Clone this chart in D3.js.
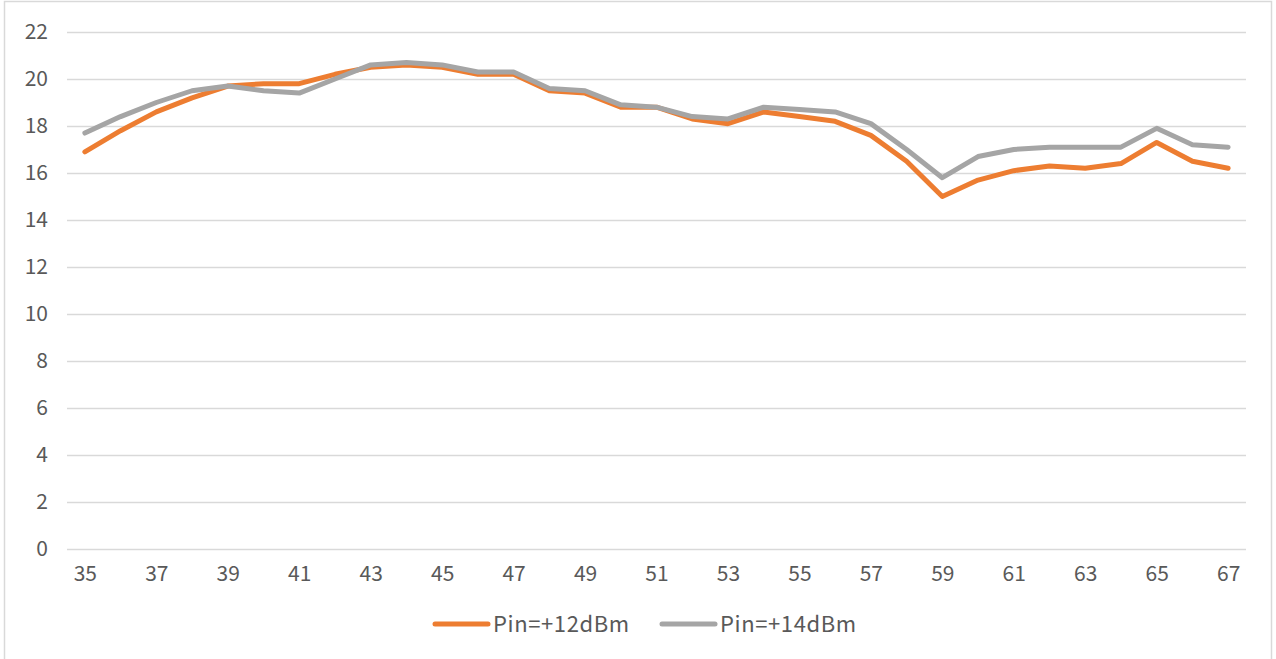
<!DOCTYPE html>
<html lang="en">
<head>
  <meta charset="utf-8">
  <title>Pin line chart</title>
  <script src="https://d3js.org/d3.v7.js"></script>
  <style>
    body { margin: 0; background: #fff; }
    text { font-family: "Noto Sans CJK SC", "Noto Sans", sans-serif; fill: #595959; }
  </style>
</head>
<body>
  <div id="my_dataviz"></div>

  <script>
    // categories on the x axis
    var freqs = [35, 36, 37, 38, 39, 40, 41, 42, 43, 44, 45, 46, 47, 48, 49, 50,
                 51, 52, 53, 54, 55, 56, 57, 58, 59, 60, 61, 62, 63, 64, 65, 66, 67];

    // series values
    var pin12 = [16.9, 17.8, 18.6, 19.2, 19.7, 19.8, 19.8, 20.2, 20.5, 20.6, 20.5, 20.2, 20.2,
                 19.5, 19.4, 18.8, 18.8, 18.3, 18.1, 18.6, 18.4, 18.2, 17.6, 16.5, 15.0,
                 15.7, 16.1, 16.3, 16.2, 16.4, 17.3, 16.5, 16.2];
    var pin14 = [17.7, 18.4, 19.0, 19.5, 19.7, 19.5, 19.4, 20.0, 20.6, 20.7, 20.6, 20.3, 20.3,
                 19.6, 19.5, 18.9, 18.8, 18.4, 18.3, 18.8, 18.7, 18.6, 18.1, 17.0, 15.8,
                 16.7, 17.0, 17.1, 17.1, 17.1, 17.9, 17.2, 17.1];

    var seriesNames = ["Pin=+12dBm", "Pin=+14dBm"];
    var yTicks = [0, 2, 4, 6, 8, 10, 12, 14, 16, 18, 20, 22];
    var xTicks = freqs.filter(function(d) { return d % 2 === 1; });

    var W = 1276, H = 659;
    var margin = {top: 32, right: 30, bottom: 110, left: 67},
        width = 1246 - margin.left,
        height = 549 - margin.top;

    var root = d3.select("#my_dataviz")
      .append("svg")
      .attr("width", W)
      .attr("height", H);

    // outer chart border
    root.append("rect")
      .attr("x", 4.5).attr("y", 1.5)
      .attr("width", 1267).attr("height", 670)
      .attr("fill", "none")
      .attr("stroke", "#d9d9d9")
      .attr("stroke-width", 1.5);

    var svg = root.append("g")
      .attr("transform", "translate(" + margin.left + "," + margin.top + ")");

    var x = d3.scalePoint()
      .domain(freqs)
      .range([0, width])
      .padding(0.5);

    var y = d3.scaleLinear()
      .domain([0, 22])
      .range([height, 0]);

    // gridlines + y labels
    var yAxis = svg.append("g")
      .call(d3.axisLeft(y).tickValues(yTicks).tickSize(-width).tickPadding(19));
    yAxis.select(".domain").remove();
    yAxis.selectAll(".tick line")
      .attr("stroke", "#d9d9d9")
      .attr("stroke-width", 1.4);
    yAxis.selectAll(".tick text")
      .attr("font-size", 21)
      .attr("fill", "#595959");

    // x labels
    var xAxis = svg.append("g")
      .attr("transform", "translate(0," + height + ")")
      .call(d3.axisBottom(x).tickValues(xTicks).tickSize(0).tickPadding(17));
    xAxis.select(".domain").remove();
    xAxis.selectAll(".tick text")
      .attr("font-size", 21)
      .attr("fill", "#595959");

    var colors = ["#ED7D31", "#A5A5A5"];
    var series = [pin12, pin14];

    var line = d3.line()
      .x(function(d, i) { return x(freqs[i]); })
      .y(function(d) { return y(d); });

    series.forEach(function(s, k) {
      svg.append("path")
        .datum(s)
        .attr("fill", "none")
        .attr("stroke", colors[k])
        .attr("stroke-width", 5)
        .attr("stroke-linejoin", "round")
        .attr("stroke-linecap", "round")
        .attr("d", line);
    });

    // legend
    var legendX = [435, 662];
    seriesNames.forEach(function(name, k) {
      var g = root.append("g").attr("transform", "translate(" + legendX[k] + ",624)");
      g.append("line")
        .attr("x1", 0).attr("x2", 53)
        .attr("stroke", colors[k])
        .attr("stroke-width", 5)
        .attr("stroke-linecap", "round");
      g.append("text")
        .attr("x", 58).attr("y", 8)
        .attr("font-size", 22)
        .attr("letter-spacing", 0.6)
        .text(name);
    });
  </script>
</body>
</html>
